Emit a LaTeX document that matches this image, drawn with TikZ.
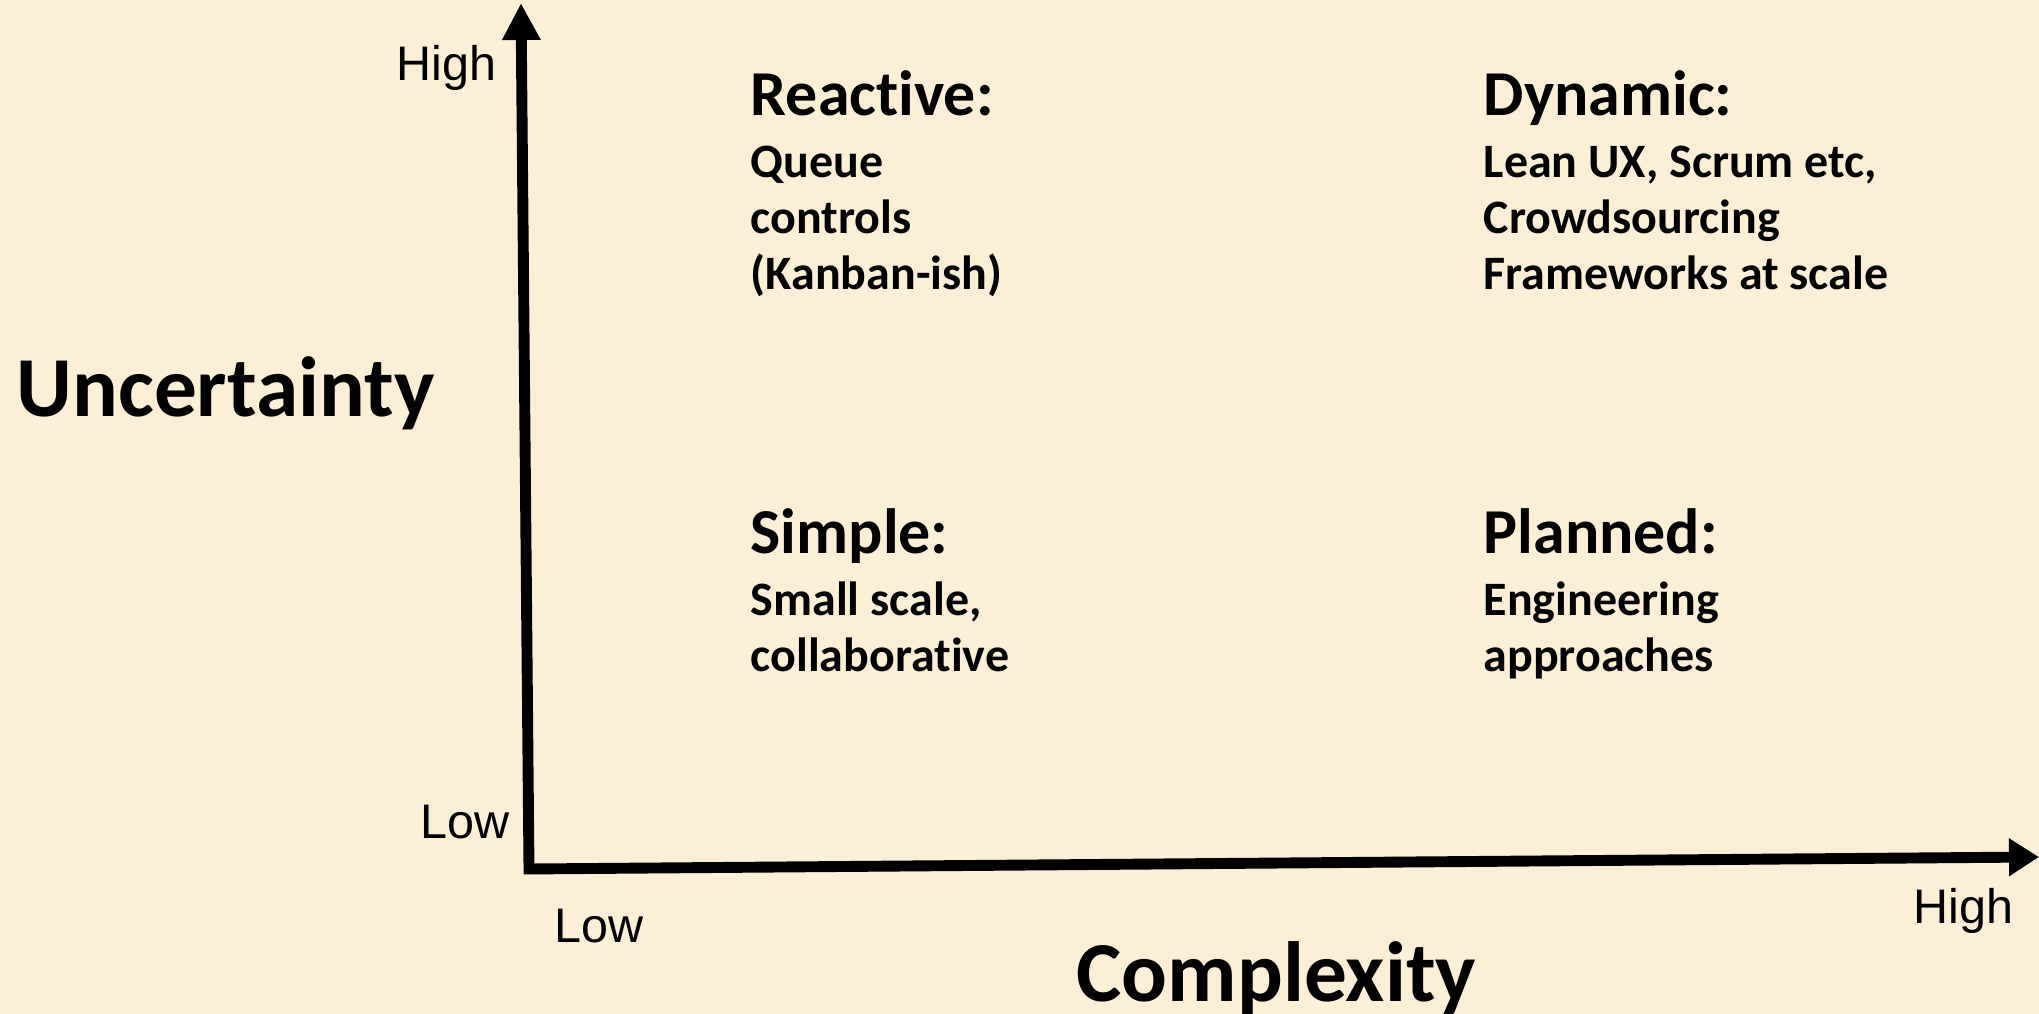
\documentclass[tikz,border=0pt]{standalone}
\usepackage{fontspec}
\setmainfont{Carlito}[Ligatures=NoCommon]
\newfontfamily\axisfont{Liberation Sans}
\usepackage{tikz}
\usetikzlibrary{arrows.meta}
\definecolor{paper}{HTML}{FBEFD6}

\tikzset{
  axis/.style={line width=3.1pt, line join=miter,
    {Triangle[length=0.37cm, width=0.36cm]}-{Triangle[length=0.30cm, width=0.36cm]}},
  head/.style={anchor=base west, inner sep=0pt, font=\fontsize{18.2}{21}\selectfont\bfseries},
  body/.style={anchor=base west, inner sep=0pt, font=\fontsize{13.65}{16}\selectfont\bfseries},
  title/.style={anchor=base west, inner sep=0pt, font=\fontsize{24.3}{28}\selectfont\bfseries},
  tick/.style={inner sep=0pt, font=\axisfont\fontsize{13.8}{15}\selectfont}
}

\begin{document}
\begin{tikzpicture}
      \def\colA{2.21}
      \def\colB{9.54}
      \def\rowA{7.53}
      \def\rowB{3.15}
      \def\gap{0.62}
      \def\skipL{0.56}

      % paper
      \fill[paper] (-5.29,-1.45) rectangle (15.10,8.69);
      \useasboundingbox (-5.29,-1.45) rectangle (15.10,8.69);

      % axes
      \coordinate (O) at (0,0);
      \coordinate (ytip) at (-0.08,8.66);
      \coordinate (xtip) at (15.10,0.12);
      \draw[axis] (ytip) -- (O) -- (xtip);

      \node[tick, anchor=base east] (yhigh) at (-0.32,7.88) {High};
      \node[tick, anchor=base east] (ylow) at (-0.19,0.30) {Low};
      \node[tick, anchor=base west] (xlow) at (0.25,-0.74) {Low};
      \node[tick, anchor=base west] (xhigh) at (13.84,-0.55) {High};

      \node[title] (uncert) at (-5.13,4.52) {Uncertainty};
      \node[title] (complex) at (5.47,-1.32) {Complexity};

      % quadrants
      \node[head] (reactive) at (\colA,\rowA) {Reactive:};
      \foreach \txt [count=\i] in {Queue, controls, (Kanban-ish)}
        \node[body] (reactive-\i) at (\colA,{\rowA-\gap-(\i-1)*\skipL}) {\txt};

      \node[head] (dynamic) at (\colB,\rowA) {Dynamic:};
      \foreach \txt [count=\i] in {{Lean UX, Scrum etc,}, Crowdsourcing, Frameworks at scale}
        \node[body] (dynamic-\i) at (\colB,{\rowA-\gap-(\i-1)*\skipL}) {\txt};

      \node[head] (simple) at (\colA,\rowB) {Simple:};
      \foreach \txt [count=\i] in {{Small scale,}, collaborative}
        \node[body] (simple-\i) at (\colA,{\rowB-\gap-(\i-1)*\skipL}) {\txt};

      \node[head] (planned) at (\colB,\rowB) {Planned:};
      \foreach \txt [count=\i] in {Engineering, approaches}
        \node[body] (planned-\i) at (\colB,{\rowB-\gap-(\i-1)*\skipL}) {\txt};

    \end{tikzpicture}
\end{document}
